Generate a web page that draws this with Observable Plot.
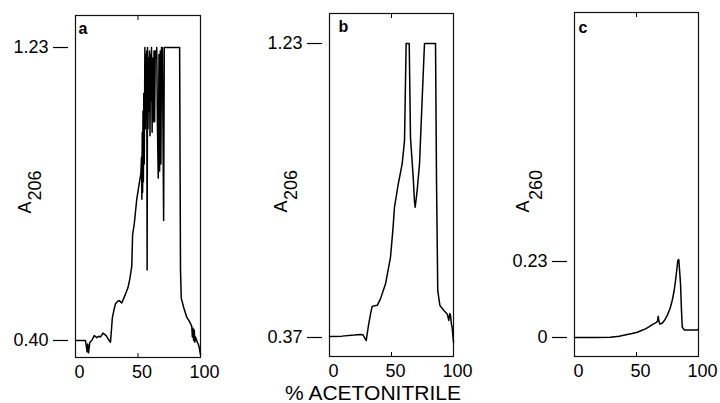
<!DOCTYPE html>
<html><head><meta charset="utf-8">
<script src="https://cdn.jsdelivr.net/npm/d3@7"></script>
<script src="https://cdn.jsdelivr.net/npm/@observablehq/plot@0.6"></script>
<style>
html,body{margin:0;padding:0;background:#fff;}
#chart{position:relative;width:720px;height:403px;overflow:hidden;background:#fff;}
#chart svg{position:absolute;top:0;}
</style></head><body><div id="chart"></div>
<script>
// ---- data ----
const xTicks = [0, 50, 100];
const xTitle = "% ACETONITRILE";

const aX = [0, 8, 9.3, 9.8, 10.4, 11.5, 13, 15, 17, 18.5, 20, 22, 24.5, 26, 28, 29.5, 31, 32, 34, 35, 37, 39.5, 42, 43.5, 45, 45.7, 47, 49, 51, 52.3, 52.8, 53.1, 53.4, 53.7, 54.0, 54.3, 54.6, 55.0, 55.5, 55.8, 56.2, 56.6, 57.0, 57.3, 57.6, 58.0, 58.4, 58.8, 59.2, 59.6, 60.0, 60.4, 60.8, 61.3, 61.8, 62.3, 62.8, 63.3, 63.8, 64.5, 65.0, 65.5, 66.2, 66.8, 67.3, 67.8, 68.3, 68.8, 69.5, 70.5, 71.0, 83.3, 84.0, 84.6, 86.5, 89, 91, 92, 93, 93.5, 94, 94.5, 95, 95.5, 96, 97.5, 98.7, 100];
const aY = [0.40, 0.40, 0.368, 0.39, 0.365, 0.395, 0.40, 0.414, 0.408, 0.412, 0.41, 0.421, 0.414, 0.405, 0.395, 0.465, 0.49, 0.504, 0.512, 0.513, 0.506, 0.527, 0.55, 0.575, 0.61, 0.70, 0.73, 0.80, 0.845, 0.873, 0.92, 0.80, 0.99, 0.82, 1.05, 0.85, 1.10, 0.90, 1.23, 1.0, 1.21, 1.05, 1.22, 0.60, 1.23, 1.0, 1.20, 1.05, 1.22, 0.98, 1.21, 1.08, 1.23, 0.99, 1.20, 1.02, 1.22, 1.02, 1.22, 1.20, 1.23, 1.02, 0.86, 1.21, 0.88, 1.22, 0.90, 1.23, 1.23, 0.74, 1.23, 1.23, 0.60, 0.52, 0.494, 0.466, 0.455, 0.448, 0.44, 0.41, 0.435, 0.40, 0.43, 0.395, 0.41, 0.395, 0.385, 0.36];
const aTicks = [0.40, 1.23];

const bX = [0, 10, 20, 25, 27, 29.6, 31.2, 33.1, 34.4, 36.5, 38.5, 41.1, 45.2, 49.2, 51.3, 52.4, 54.6, 55.6, 58.6, 60.5, 61.8, 64.3, 65.3, 67.5, 68.5, 69.1, 70.7, 72.6, 74.8, 76.6, 85.5, 86.3, 87.3, 89, 92.2, 94.9, 95.6, 96.2, 97, 97.6, 98.3, 98.9, 100];
const bY = [0.373, 0.374, 0.377, 0.379, 0.378, 0.361, 0.40, 0.439, 0.461, 0.463, 0.464, 0.483, 0.527, 0.605, 0.693, 0.751, 0.80, 0.822, 0.878, 0.946, 1.23, 1.23, 0.956, 0.839, 0.77, 0.751, 0.80, 0.878, 1.073, 1.23, 1.23, 0.829, 0.507, 0.464, 0.449, 0.439, 0.43, 0.42, 0.44, 0.434, 0.41, 0.40, 0.356];
const bTicks = [0.37, 1.23];

const cX = [0, 15, 29, 36, 42.5, 46.5, 50.6, 54, 57.3, 60, 62.7, 66.1, 67.0, 67.5, 68.0, 68.8, 70.7, 72.8, 74.8, 77, 78.8, 80.3, 81.5, 82.5, 83.3, 84.1, 84.8, 85.5, 86.3, 86.9, 88.7, 95, 99, 100];
const cY = [0, 0, 0.001, 0.004, 0.009, 0.012, 0.016, 0.021, 0.026, 0.032, 0.039, 0.046, 0.05, 0.064, 0.05, 0.041, 0.043, 0.053, 0.067, 0.087, 0.112, 0.14, 0.173, 0.205, 0.233, 0.236, 0.2, 0.163, 0.08, 0.031, 0.023, 0.023, 0.023, 0.025];
const cTicks = [0, 0.23];

const panelLetters = ["a", "b", "c"];
const yTitleMain = ["A", "A", "A"];
const yTitleSub = ["206", "206", "260"];

// ---- layout ----
const FONT = "'Liberation Sans', Arial, sans-serif";
const panels = [
  {xs: aX, ys: aY, ticks: aTicks, left: 0, ml: 75, mr: 40, mt: 15, mb: 46, yDomain: [0.3518, 1.3207],
   fmt: d => d.toFixed(2), letterDx: 3, letterDy: 7, aDx: -50, aDy: 27, sDx: -40, sDy: 14},
  {xs: bX, ys: bY, ticks: bTicks, left: 240, ml: 89, mr: 27, mt: 13, mb: 47, yDomain: [0.3144, 1.3178],
   fmt: d => d.toFixed(2), letterDx: 9, letterDy: 7, aDx: -48, aDy: 27.5, sDx: -38, sDy: 15, title: true},
  {xs: cX, ys: cY, ticks: cTicks, left: 480, ml: 94, mr: 22, mt: 12, mb: 47, yDomain: [-0.0575, 0.9836],
   fmt: d => d === 0 ? "0" : d.toFixed(2), letterDx: 4, letterDy: 9, aDx: -51, aDy: 28, sDx: -38, sDy: 15.5}
];

const chart = document.getElementById("chart");
panels.forEach((p, k) => {
  const rows = p.xs.map((x, i) => ({x, y: p.ys[i]}));
  const marks = [
    Plot.frame({stroke: "#111", strokeWidth: 1.2}),
    Plot.axisY({ticks: p.ticks, tickFormat: p.fmt, tickSize: 15, tickPadding: 5, dx: -7, fontSize: 18, label: null, strokeWidth: 1.2}),
    Plot.axisX({ticks: xTicks, tickSize: 0, tickPadding: 8, dx: 4, fontSize: 18, label: null}),
    Plot.axisX({anchor: "bottom", ticks: [50], tickSize: 4, dy: -4, tickFormat: () => "", label: null}),
    Plot.axisX({anchor: "top", ticks: [50], tickSize: 4, dy: 4, tickFormat: () => "", label: null}),
    Plot.line(rows, {x: "x", y: "y", stroke: "#000", strokeWidth: 1.5}),
    Plot.text([panelLetters[k]], {frameAnchor: "top-left", textAnchor: "start", lineAnchor: "top", dx: p.letterDx, dy: p.letterDy, fontWeight: "bold", fontSize: 16}),
    Plot.text([yTitleMain[k]], {frameAnchor: "left", rotate: -90, textAnchor: "start", dx: p.aDx, dy: p.aDy, fontSize: 18}),
    Plot.text([yTitleSub[k]], {frameAnchor: "left", rotate: -90, textAnchor: "start", dx: p.sDx, dy: p.sDy, fontSize: 18})
  ];
  if (p.title) {
    marks.push(Plot.text([xTitle], {frameAnchor: "bottom", dx: -18.5, dy: 43, fontSize: 21}));
  }
  const svg = Plot.plot({
    width: 240, height: 403,
    marginLeft: p.ml, marginRight: p.mr, marginTop: p.mt, marginBottom: p.mb,
    x: {domain: [0, 100]},
    y: {domain: p.yDomain},
    style: {fontFamily: FONT, fontSize: "18px", color: "#000", background: "transparent", overflow: "visible"},
    marks
  });
  svg.style.left = p.left + "px";
  chart.appendChild(svg);
});
</script>
</body></html>
